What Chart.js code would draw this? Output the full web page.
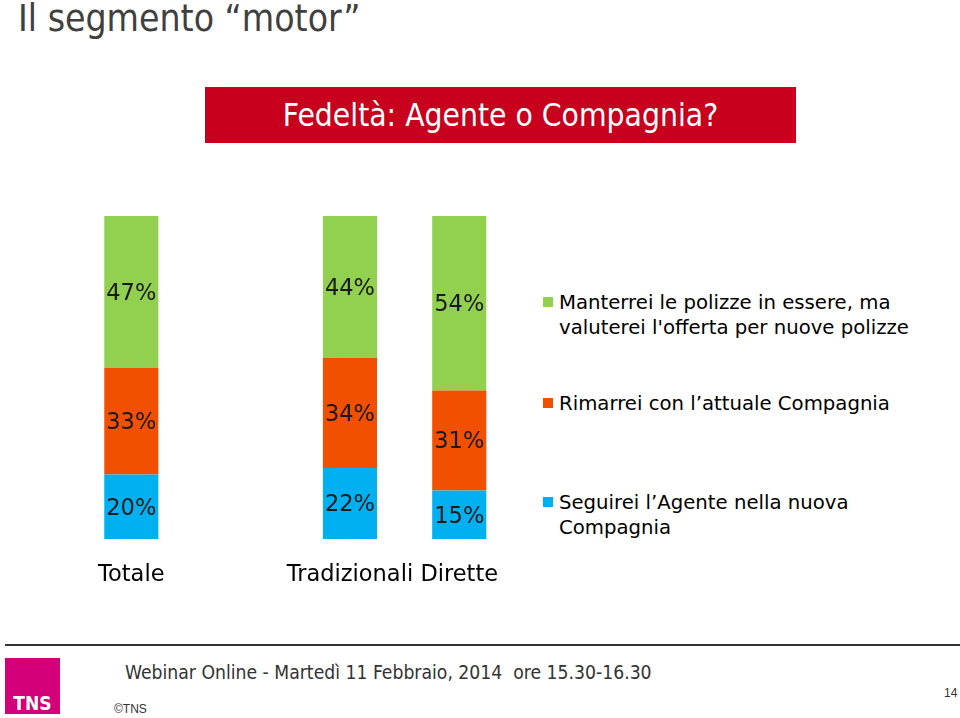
<!DOCTYPE html>
<html>
<head>
<meta charset="utf-8">
<script src="https://cdn.jsdelivr.net/npm/chart.js@4/dist/chart.umd.min.js"></script>
<style>
  body { margin: 0; width: 960px; height: 718px; background: #fff; position: relative; overflow: hidden; font-family: "DejaVu Sans", Verdana, sans-serif; }
  .abs { position: absolute; white-space: nowrap; }
  #title { left: 18px; top: -3px; font-family: "DejaVu Sans Condensed", "DejaVu Sans"; font-stretch: condensed; font-size: 37px; color: #404040; }
  #banner { left: 205px; top: 87px; width: 591px; height: 56px; background: #c8001e; color: #fff; font-family: "DejaVu Sans Condensed", "DejaVu Sans"; font-stretch: condensed; font-size: 31.5px; line-height: 56px; text-align: center; }
  #chartBox { left: 76px; top: 206px; width: 445px; height: 406px; }
  .leg { left: 543px; font-size: 19.7px; color: #000; line-height: 25px; }
  .leg i { position: absolute; left: 0; top: 7px; width: 10px; height: 10px; }
  .leg span { display: block; margin-left: 16px; }
  #rule { left: 5px; top: 644px; width: 955px; height: 2px; background: #333; }
  #logo { left: 5px; top: 658px; width: 55px; height: 56px; background: #d4007a; }
  #logo span { position: absolute; left: 0; right: 0; bottom: 0; text-align: center; color: #fff; font-family: "DejaVu Sans Condensed", "DejaVu Sans"; font-stretch: condensed; font-weight: bold; font-size: 19px; }
  #foot { left: 125px; top: 661px; font-family: "DejaVu Sans Condensed", "DejaVu Sans"; font-stretch: condensed; font-size: 19.2px; color: #333; }
  #copy { left: 114px; top: 702px; font-family: "Liberation Sans", Arial; font-size: 12px; color: #333; }
  #page { left: 944px; top: 686px; font-family: "Liberation Sans", Arial; font-size: 12px; color: #333; }
</style>
</head>
<body>
<div id="title" class="abs">Il segmento “motor”</div>
<div id="banner" class="abs">Fedeltà: Agente o Compagnia?</div>
<div id="chartBox" class="abs"><canvas id="myChart"></canvas></div>
<div id="legend"></div>
<div id="rule" class="abs"></div>
<div id="logo" class="abs"><span>TNS</span></div>
<div id="foot" class="abs">Webinar Online - Martedì 11 Febbraio, 2014&nbsp;&nbsp;ore 15.30-16.30</div>
<div id="copy" class="abs">©TNS</div>
<div id="page" class="abs">14</div>
<script>
// dati
const categories = ['Totale', '', 'Tradizionali', 'Dirette'];
const seguireiAgente = [20, null, 22, 15];
const rimarrei = [33, null, 34, 31];
const manterrei = [47, null, 44, 54];
const seriesNames = [
  'Seguirei l\u2019Agente nella nuova Compagnia',
  'Rimarrei con l\u2019attuale Compagnia',
  'Manterrei le polizze in essere, ma valuterei l\'offerta per nuove polizze'
];
const legendLines = [
  ['Seguirei l\u2019Agente nella nuova', 'Compagnia'],
  ['Rimarrei con l\u2019attuale Compagnia'],
  ['Manterrei le polizze in essere, ma', 'valuterei l\'offerta per nuove polizze']
];
const legendTops = [490, 391, 290];
const colors = ['#00b0f0', '#f05000', '#92d050'];

// legenda a destra
const box = document.getElementById('legend');
legendLines.forEach((lines, i) => {
  const el = document.createElement('div');
  el.className = 'abs leg';
  el.style.top = legendTops[i] + 'px';
  el.innerHTML = '<i style="background:' + colors[i] + '"></i>' + lines.map(l => '<span>' + l + '</span>').join('');
  box.appendChild(el);
});

const valueLabels = {
  id: 'valueLabels',
  afterDatasetsDraw(chart) {
    const ctx = chart.ctx;
    ctx.save();
    ctx.font = '22.5px "DejaVu Sans"';
    ctx.fillStyle = '#1a1a1a';
    ctx.textAlign = 'center';
    ctx.textBaseline = 'middle';
    chart.data.datasets.forEach((ds, i) => {
      chart.getDatasetMeta(i).data.forEach((bar, j) => {
        if (ds.data[j] == null) return;
        const p = bar.getProps(['x', 'y', 'base'], true);
        ctx.fillText(ds.data[j] + '%', p.x, (p.y + p.base) / 2 + 2);
      });
    });
    ctx.restore();
  }
};

const ctx = document.getElementById('myChart').getContext('2d');
const myChart = new Chart(ctx, {
  type: 'bar',
  data: {
    labels: categories,
    datasets: [
      { label: seriesNames[0], data: seguireiAgente, backgroundColor: colors[0] },
      { label: seriesNames[1], data: rimarrei, backgroundColor: colors[1] },
      { label: seriesNames[2], data: manterrei, backgroundColor: colors[2] }
    ]
  },
  options: {
    responsive: true,
    maintainAspectRatio: false,
    animation: false,
    layout: { padding: { top: 10, left: 0, right: 0, bottom: 0 } },
    datasets: { bar: { barPercentage: 1, categoryPercentage: 0.495 } },
    plugins: { legend: { display: false }, tooltip: { enabled: false } },
    scales: {
      x: {
        stacked: true,
        grid: { display: false, drawTicks: false },
        border: { display: false },
        ticks: { color: '#000', font: { size: 22.5, family: '"DejaVu Sans"' }, padding: 23, autoSkip: false, maxRotation: 0 }
      },
      y: {
        stacked: true,
        display: false,
        min: 0,
        max: 100
      }
    }
  },
  plugins: [valueLabels]
});
</script>
</body>
</html>
